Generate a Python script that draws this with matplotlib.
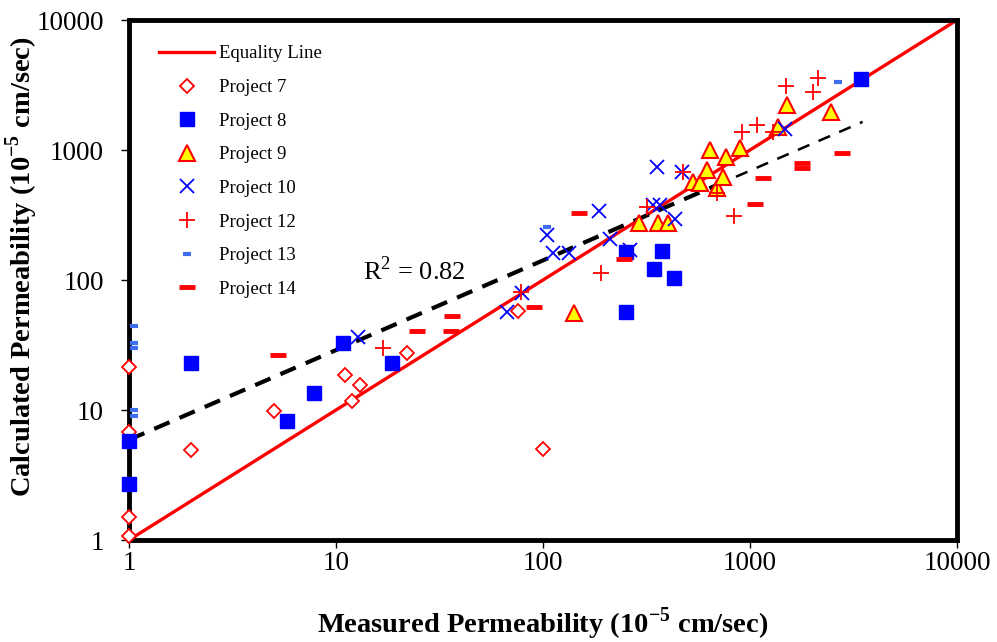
import numpy as np
import matplotlib
matplotlib.use('Agg')
from matplotlib import pyplot as plt
from matplotlib.lines import Line2D

plt.rcParams['font.family'] = ['Liberation Serif', 'DejaVu Serif']
plt.rcParams['mathtext.fontset'] = 'custom'
plt.rcParams['mathtext.rm'] = 'Liberation Serif'
plt.rcParams['mathtext.bf'] = 'Liberation Serif:bold'

# data (10^-5 cm/sec)
p7_x = [1, 1, 1, 1, 2, 5, 11, 12, 13, 22, 76, 100]
p7_y = [21.5, 6.8, 1.5, 1.08, 4.9, 9.8, 18.5, 11.8, 15.5, 27.5, 58, 5.0]

p8_x = [1, 1, 2, 5.8, 7.8, 10.8, 18.6, 252, 376, 344, 429, 252, 3450]
p8_y = [5.8, 2.7, 23, 8.2, 13.6, 32.5, 22.8, 163, 168, 121, 103, 57, 3500]

p9_x = [141, 291, 359, 402, 531, 573, 690, 738, 622, 641, 766, 895, 1370, 1510, 2460]
p9_y = [55.7, 274, 274, 274, 567, 554, 508, 617, 702, 1000, 889, 1030, 1496, 2220, 1960]

p10_x = [12.8, 67, 79, 105, 112, 134, 187, 211, 263, 340, 367, 434, 355, 469, 1476]
p10_y = [36.4, 57, 79, 222, 161, 161, 339, 207, 170, 377, 377, 295, 740, 677, 1452]

p12_x = [16.9, 78, 191, 318, 693, 837, 475, 915, 1081, 1292, 1493, 2015, 2131]
p12_y = [30, 81, 113, 364, 467, 311, 677, 1374, 1557, 1374, 3105, 2794, 3578]

p13_x = [1.06, 1.06, 1.06, 1.06, 1.06, 105, 2660]
p13_y = [44, 32.6, 30.2, 10, 9.0, 256, 3340]

p14_x = [5.25, 24.6, 35.9, 36.4, 90.5, 149, 246, 1057, 1156, 1784, 1784, 2782]
p14_y = [26.5, 40.5, 40.5, 52.9, 62, 327, 145, 384, 609, 794, 727, 948]

# power trend line  y = a * x^b
trend_a = 5.9
trend_b = 0.69
trend_split = 680
trend_end = 3500
r2_text = 'R$^2$ = 0.82'

fig = plt.figure(figsize=(9.97, 6.42), dpi=100)
ax = fig.add_axes([129 / 997, 102 / 642, 828 / 997, 520 / 642])

eq = np.array([1, 10000])
ax.plot(eq, eq, color='#ff0000', lw=2.4, zorder=2)

xs1 = np.logspace(0, np.log10(trend_split), 50)
ax.plot(xs1, trend_a * xs1 ** trend_b, color='black', lw=3, dashes=(4, 2.6), zorder=3)
xs2 = np.logspace(np.log10(trend_split), np.log10(trend_end), 50)
ax.plot(xs2, trend_a * xs2 ** trend_b, color='black', lw=1.8, dashes=(5, 4), zorder=3)

ax.plot(p7_x, p7_y, ls='none', marker='D', ms=7.5, mfc='white', mec='#ff0000', mew=1.3, zorder=4, clip_on=False)
ax.plot(p8_x, p8_y, ls='none', marker='s', ms=9.5, mfc='#0000ff', mec='#0000ff', zorder=4, clip_on=False)
ax.plot(p9_x, p9_y, ls='none', marker='^', ms=11, mfc='#ffff00', mec='#ff0000', mew=1.5, zorder=5)
ax.plot(p10_x, p10_y, ls='none', marker='x', ms=10, mec='#0000ff', mew=1.3, zorder=5)
ax.plot(p12_x, p12_y, ls='none', marker='+', ms=12, mec='#ff0000', mew=1.3, zorder=5)
ax.plot(p13_x, p13_y, ls='none', marker='_', ms=6, mec='#3d6ef0', mew=3, zorder=5, clip_on=False)
ax.plot(p14_x, p14_y, ls='none', marker='_', ms=12, mec='#ff0000', mew=3.5, zorder=5)

ax.set_xscale('log')
ax.set_yscale('log')
ax.set_xlim(1, 10000)
ax.set_ylim(1, 10000)
ticks = [1, 10, 100, 1000, 10000]
ax.set_xticks(ticks)
ax.set_yticks(ticks)
ax.set_xticklabels([str(t) for t in ticks])
ax.set_yticklabels([str(t) for t in ticks])
ax.minorticks_off()
ax.tick_params(direction='out', length=6, width=1, labelsize=19.5)
ax.tick_params(axis='y', pad=12)
ax.tick_params(axis='x', pad=2)
for s in ax.spines.values():
    s.set_linewidth(3.5)
    s.set_zorder(3.5)

ax.set_xlabel('Measured Permeability (10$^{\\mathbf{-5}}$ cm/sec)', fontsize=20.5, fontweight='bold')
ax.set_ylabel('Calculated Permeability (10$^{\\mathbf{-5}}$ cm/sec)', fontsize=20.5, fontweight='bold')
ax.xaxis.set_label_coords(0.5, -0.125)
ax.yaxis.set_label_coords(-0.108, 0.525)

ax.text(13.5, 119, r2_text, fontsize=19, va='center', ha='left')

handles = [
    Line2D([], [], color='#ff0000', lw=2.4),
    Line2D([], [], ls='none', marker='D', ms=7.5, mfc='white', mec='#ff0000', mew=1.3),
    Line2D([], [], ls='none', marker='s', ms=9.5, mfc='#0000ff', mec='#0000ff'),
    Line2D([], [], ls='none', marker='^', ms=11, mfc='#ffff00', mec='#ff0000', mew=1.5),
    Line2D([], [], ls='none', marker='x', ms=10, mec='#0000ff', mew=1.3),
    Line2D([], [], ls='none', marker='+', ms=12, mec='#ff0000', mew=1.3),
    Line2D([], [], ls='none', marker='_', ms=6, mec='#3d6ef0', mew=3),
    Line2D([], [], ls='none', marker='_', ms=12, mec='#ff0000', mew=3.5),
]
labels = ['Equality Line', 'Project 7', 'Project 8', 'Project 9', 'Project 10',
          'Project 12', 'Project 13', 'Project 14']
ax.legend(handles, labels, loc='upper left', bbox_to_anchor=(150 / 997, 1 - 36 / 642),
          bbox_transform=fig.transFigure, frameon=False, fontsize=13.5,
          handlelength=2.9, handletextpad=0.3, labelspacing=0.88, borderpad=0)

fig.savefig('out.png', dpi=100)
